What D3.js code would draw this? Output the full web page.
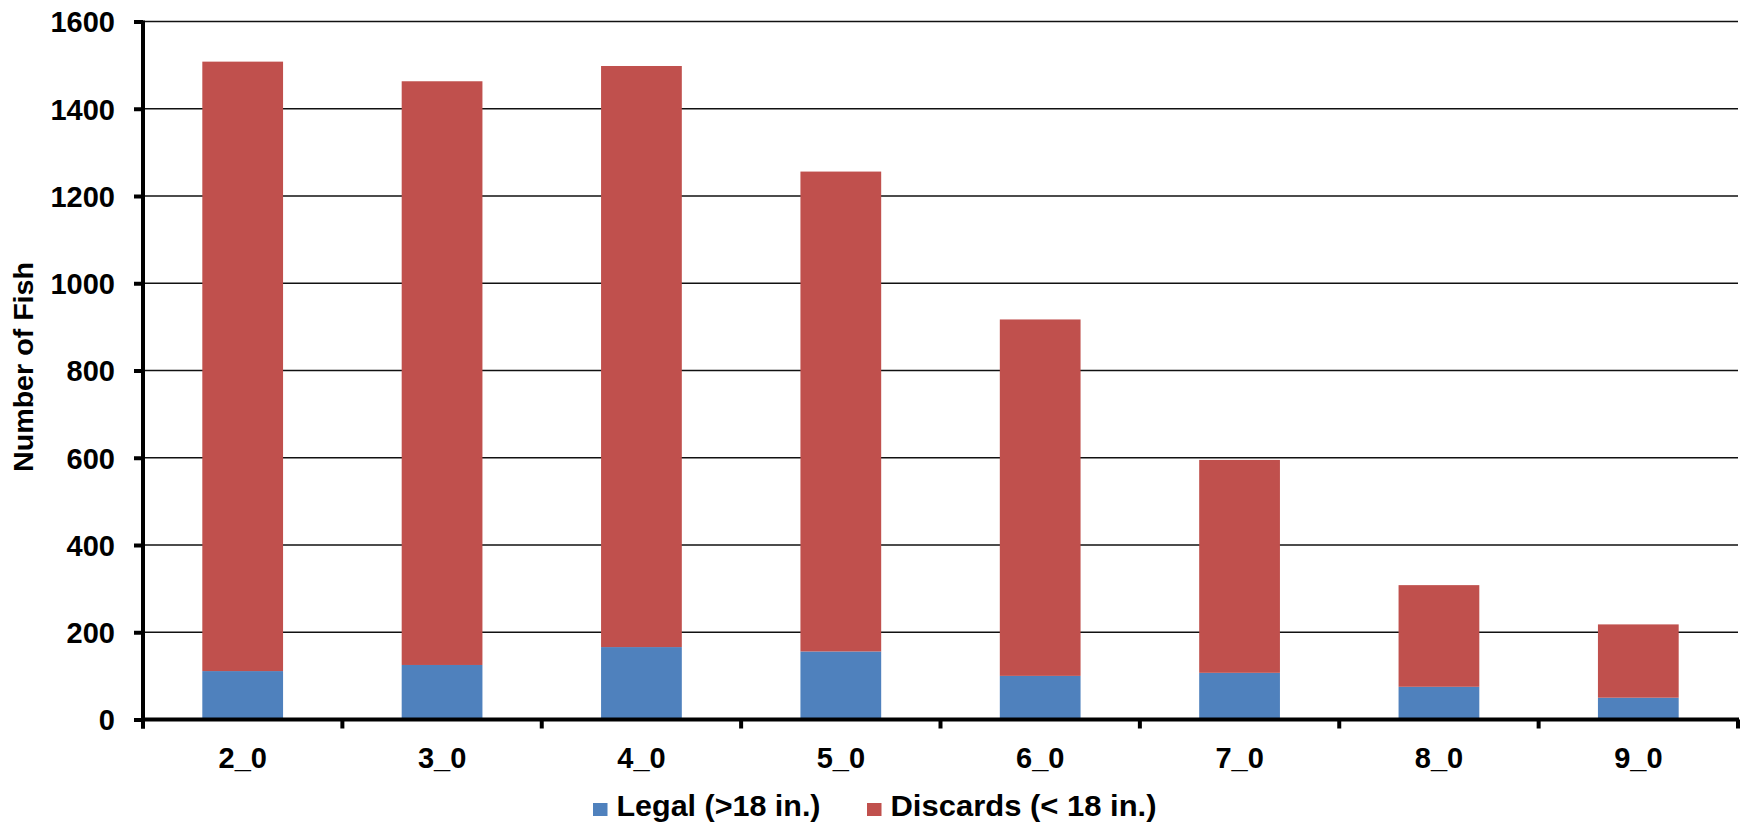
<!DOCTYPE html>
<html lang="en">
<head>
  <meta charset="UTF-8">
  <title>Number of Fish</title>
  <script src="https://cdn.jsdelivr.net/npm/d3@7"></script>
  <style>
    body { margin: 0; background: #fff; }
    text { font-family: "Liberation Sans", Arial, sans-serif; font-weight: bold; fill: #000; }
  </style>
</head>
<body>
  <div id="wrapper"></div>
  <script>
    // values
    const categories = ["2_0", "3_0", "4_0", "5_0", "6_0", "7_0", "8_0", "9_0"]
    const legal = [111, 125, 166, 156, 100, 107, 75, 50]
    const discards = [1397, 1338, 1332, 1100, 817, 488, 233, 168]
    const seriesNames = ["Legal (>18 in.)", "Discards (< 18 in.)"]
    const seriesColors = ["#4F81BD", "#C0504D"]
    const yTicks = [0, 200, 400, 600, 800, 1000, 1200, 1400, 1600]

    const dimensions = {
      width: 1746,
      height: 826,
      margin: { top: 21.5, right: 8, bottom: 106.5, left: 143 }
    }
    dimensions.boundedWidth = dimensions.width - dimensions.margin.left - dimensions.margin.right
    dimensions.boundedHeight = dimensions.height - dimensions.margin.top - dimensions.margin.bottom

    const svg = d3.select("#wrapper").append("svg")
      .attr("width", dimensions.width)
      .attr("height", dimensions.height)

    const bounds = svg.append("g")
      .attr("transform", `translate(${dimensions.margin.left},${dimensions.margin.top})`)

    const table = categories.map((c, i) => ({ cat: c, legal: legal[i], discards: discards[i] }))
    const stacked = d3.stack().keys(["legal", "discards"])(table)

    const xScale = d3.scaleBand()
      .domain(categories)
      .range([0, dimensions.boundedWidth])
      .paddingInner(0.595)
      .paddingOuter(0.2975)

    const xOuter = d3.scaleBand()
      .domain(categories)
      .range([0, dimensions.boundedWidth])

    const yScale = d3.scaleLinear()
      .domain([0, 1600])
      .range([dimensions.boundedHeight, 0])

    // gridlines
    bounds.append("g")
      .selectAll("line")
      .data(yTicks.filter(d => d > 0))
      .join("line")
      .attr("x1", 0)
      .attr("x2", dimensions.boundedWidth)
      .attr("y1", d => yScale(d))
      .attr("y2", d => yScale(d))
      .attr("stroke", "#111")
      .attr("stroke-width", 1.3)

    // bars
    bounds.append("g")
      .selectAll("g")
      .data(stacked)
      .join("g")
      .attr("fill", (d, i) => seriesColors[i])
      .selectAll("rect")
      .data(d => d)
      .join("rect")
      .attr("x", d => xScale(d.data.cat))
      .attr("width", xScale.bandwidth())
      .attr("y", d => yScale(d[1]))
      .attr("height", d => yScale(d[0]) - yScale(d[1]))

    // y axis
    const yAxis = bounds.append("g")
      .call(d3.axisLeft(yScale).tickValues(yTicks).tickFormat(d3.format("d")).tickSize(9).tickPadding(19))
    yAxis.select(".domain").attr("stroke-width", 4).attr("d", `M0,${dimensions.boundedHeight + 9}V-1`)
    yAxis.selectAll(".tick line").attr("stroke-width", 4)
    yAxis.selectAll(".tick text").style("font-size", "29px").attr("dy", "0.36em")

    // x axis
    const xAxis = bounds.append("g")
      .attr("transform", `translate(0,${dimensions.boundedHeight})`)
      .call(d3.axisBottom(xOuter).tickSize(0).tickPadding(28))
    xAxis.select(".domain").attr("stroke-width", 4).attr("d", `M-2,0H${dimensions.boundedWidth + 1}`)
    xAxis.selectAll(".tick text").style("font-size", "29px").attr("dy", "0.71em")

    const edges = [0, ...categories.map(c => xOuter(c) + xOuter.bandwidth())]
    xAxis.append("g")
      .selectAll("line")
      .data(edges)
      .join("line")
      .attr("x1", d => d)
      .attr("x2", d => d)
      .attr("y1", 0)
      .attr("y2", 9)
      .attr("stroke", "#000")
      .attr("stroke-width", 4)

    // y title
    svg.append("text")
      .attr("transform", "translate(33,367) rotate(-90)")
      .attr("text-anchor", "middle")
      .attr("textLength", 210)
      .attr("lengthAdjust", "spacingAndGlyphs")
      .style("font-size", "28.5px")
      .text("Number of Fish")

    // legend
    const legendX = [593, 867]
    const legendW = [204, 266]
    const legend = svg.append("g")
      .selectAll("g")
      .data(seriesNames)
      .join("g")
      .attr("transform", (d, i) => `translate(${legendX[i]},0)`)
    legend.append("rect")
      .attr("x", 0)
      .attr("y", 803)
      .attr("width", 14.5)
      .attr("height", 13)
      .attr("fill", (d, i) => seriesColors[i])
    legend.append("text")
      .attr("x", 23.5)
      .attr("y", 816)
      .attr("textLength", (d, i) => legendW[i])
      .attr("lengthAdjust", "spacingAndGlyphs")
      .style("font-size", "29px")
      .text(d => d)
  </script>
</body>
</html>
